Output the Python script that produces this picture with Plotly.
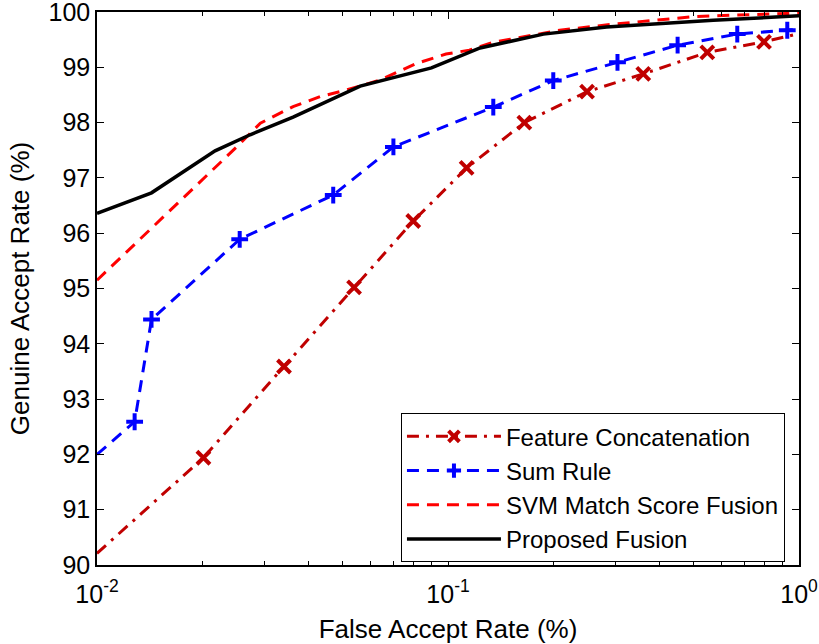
import plotly.graph_objects as go

# Feature Concatenation
fc_far = [0.01, 0.0201, 0.0341, 0.054, 0.0796, 0.113, 0.165, 0.249, 0.36, 0.548, 0.795, 1.0]
fc_gar = [90.21, 91.94, 93.59, 95.02, 96.22, 97.18, 98.0, 98.56, 98.88, 99.27, 99.46, 99.61]
# Sum Rule
sr_far = [0.01, 0.0128, 0.0143, 0.0255, 0.0471, 0.0699, 0.1346, 0.1995, 0.304, 0.451, 0.667, 0.926, 1.0]
sr_gar = [92.0, 92.59, 94.44, 95.89, 96.69, 97.56, 98.28, 98.76, 99.09, 99.40, 99.60, 99.67, 99.69]
# SVM Match Score Fusion
svm_far = [0.01, 0.0250, 0.0292, 0.0362, 0.0432, 0.0514, 0.064, 0.0814, 0.0987, 0.115, 0.134, 0.164, 0.208, 0.295, 0.51, 1.0]
svm_gar = [95.15, 97.56, 97.99, 98.29, 98.47, 98.59, 98.77, 99.07, 99.24, 99.31, 99.45, 99.55, 99.67, 99.78, 99.92, 99.98]
# Proposed Fusion
pf_far = [0.01, 0.0143, 0.0217, 0.0273, 0.0362, 0.0562, 0.0897, 0.1234, 0.187, 0.283, 0.57, 1.0]
pf_gar = [96.36, 96.73, 97.49, 97.78, 98.10, 98.66, 98.99, 99.35, 99.60, 99.73, 99.85, 99.93]

y_ticks = [90, 91, 92, 93, 94, 95, 96, 97, 98, 99, 100]
x_ticks = [0.01, 0.1, 1]
x_ticktext = ["10<sup>-2</sup>", "10<sup>-1</sup>", "10<sup>0</sup>"]
x_minor = [k * 0.01 for k in range(2, 10)] + [k * 0.1 for k in range(2, 10)]

FONT = "Liberation Sans, Arial, sans-serif"
DARKRED = "#C00000"

fig = go.Figure()
fig.add_trace(go.Scatter(
    x=fc_far, y=fc_gar, name="Feature Concatenation", mode="lines+markers",
    line=dict(color=DARKRED, width=3, dash="12px,7px,3px,7px"),
    marker=dict(symbol="x-thin", size=[0] + [13] * (len(fc_far) - 2) + [0], opacity=1,
                line=dict(color=DARKRED, width=4), color=DARKRED),
))
fig.add_trace(go.Scatter(
    x=sr_far, y=sr_gar, name="Sum Rule", mode="lines+markers",
    line=dict(color="#0000FF", width=3, dash="12px,8px"),
    marker=dict(symbol="cross-thin", size=[0] + [12] * (len(sr_far) - 2) + [0], opacity=1,
                line=dict(color="#0000FF", width=4), color="#0000FF"),
))
fig.add_trace(go.Scatter(
    x=svm_far, y=svm_gar, name="SVM Match Score Fusion", mode="lines",
    line=dict(color="#FF0000", width=3, dash="12px,8px"),
))
fig.add_trace(go.Scatter(
    x=pf_far, y=pf_gar, name="Proposed Fusion", mode="lines",
    line=dict(color="#000000", width=3.5),
))

fig.update_layout(
    width=819, height=644,
    margin=dict(l=97, r=20, t=12, b=79, autoexpand=False),
    paper_bgcolor="white", plot_bgcolor="white",
    font=dict(family=FONT, size=25, color="black"),
    showlegend=True,
    legend=dict(
        x=0.98, y=0.005, xanchor="right", yanchor="bottom",
        bgcolor="white", bordercolor="black", borderwidth=1,
        font=dict(family=FONT, size=24, color="black"),
        tracegroupgap=0, itemwidth=94,
    ),
)
fig.update_xaxes(
    type="log", range=[-2, 0], automargin=False,
    tickvals=x_ticks, ticktext=x_ticktext,
    ticks="inside", ticklen=7, tickwidth=1, tickcolor="black",
    showline=True, linecolor="black", linewidth=1.5, mirror="allticks",
    showgrid=False, zeroline=False,
    minor=dict(tickvals=x_minor, ticks="inside", ticklen=4, tickcolor="black", showgrid=False),
    tickfont=dict(size=25), ticklabelstandoff=6, ticklabeloverflow="allow",
    title=dict(text="False Accept Rate (%)", font=dict(size=26), standoff=14),
)
fig.update_yaxes(
    range=[90, 100], tickvals=y_ticks, automargin=False,
    ticks="inside", ticklen=7, tickwidth=1, tickcolor="black",
    showline=True, linecolor="black", linewidth=1.5, mirror="allticks",
    showgrid=False, zeroline=False,
    tickfont=dict(size=25), ticklabeloverflow="allow",
    title=dict(text="Genuine Accept Rate (%)", font=dict(size=26), standoff=11),
)

fig.write_html("out.html", config={"displayModeBar": False},
               post_script="document.body.style.margin='0';")
